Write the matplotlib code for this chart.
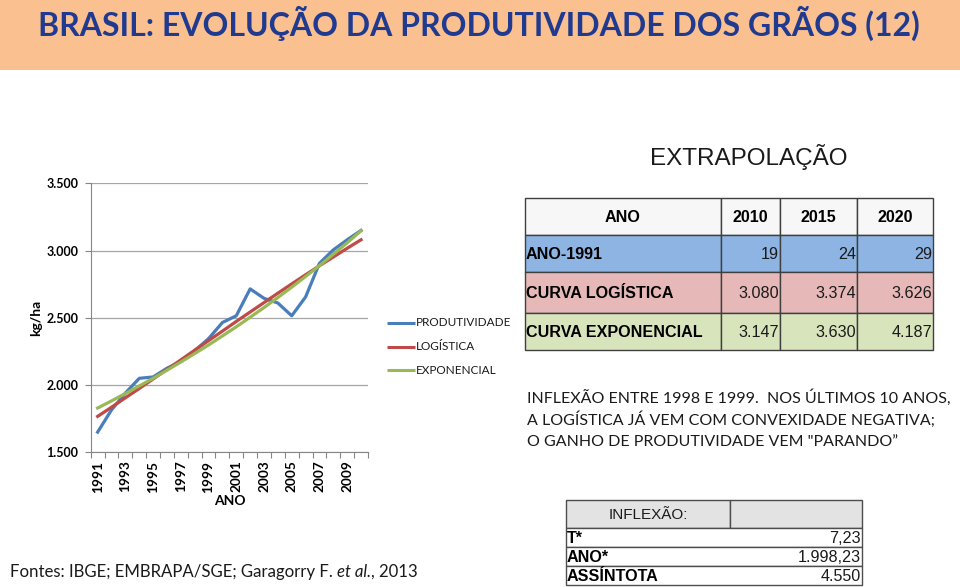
import matplotlib
matplotlib.use("Agg")
import matplotlib.pyplot as plt
from matplotlib.patches import Rectangle
from matplotlib.ticker import FuncFormatter, FixedLocator, NullFormatter

# dados do grafico
anos = list(range(1991, 2011))
produtividade = [1650, 1815, 1940, 2050, 2060, 2125, 2175, 2255, 2345, 2465,
                 2515, 2715, 2645, 2610, 2515, 2655, 2905, 3005, 3080, 3150]
logistica = [1767, 1835, 1905, 1974, 2045, 2116, 2187, 2259, 2330, 2401,
             2473, 2543, 2613, 2683, 2752, 2820, 2887, 2952, 3017, 3080]
exponencial = [1829, 1882, 1937, 1993, 2050, 2110, 2171, 2234, 2298, 2365,
               2433, 2504, 2576, 2651, 2728, 2807, 2888, 2972, 3058, 3147]
series_nomes = ["PRODUTIVIDADE", "LOGÍSTICA", "EXPONENCIAL"]

# tabela de extrapolacao
extrap_anos = ["2010", "2015", "2020"]
extrap_linhas = ["ANO-1991", "CURVA LOGÍSTICA", "CURVA EXPONENCIAL"]
ano_menos_1991 = ["19", "24", "29"]
curva_logistica = ["3.080", "3.374", "3.626"]
curva_exponencial = ["3.147", "3.630", "4.187"]

# tabela de inflexao
inflexao_rotulos = ["T*", "ANO*", "ASSÍNTOTA"]
inflexao_valores = ["7,23", "1.998,23", "4.550"]

texto_inflexao = ["INFLEXÃO ENTRE 1998 E 1999.  NOS ÚLTIMOS 10 ANOS,",
                  "A LOGÍSTICA JÁ VEM COM CONVEXIDADE NEGATIVA;",
                  "O GANHO DE PRODUTIVIDADE VEM \"PARANDO\u201d"]

azul = "#4A7EBB"
vermelho = "#BE4B48"
verde = "#98B954"
calibri = ["Lato", "DejaVu Sans"]
arial = ["Liberation Sans", "DejaVu Sans"]

fig = plt.figure(figsize=(9.6, 5.87), dpi=100)
fig.patch.set_facecolor("white")

# camada em pixels para faixa, tabelas e textos
ov = fig.add_axes([0, 0, 1, 1])
ov.set_xlim(0, 960)
ov.set_ylim(587, 0)
ov.axis("off")
r = fig.canvas.get_renderer()


def ajusta(t, largura):
    w = t.get_window_extent(r).width
    t.set_fontsize(t.get_fontsize() * largura / w)


ov.add_patch(Rectangle((0, 0), 960, 70, color="#FAC090", lw=0))
t = ov.text(479, 23, "BRASIL: EVOLUÇÃO DA PRODUTIVIDADE DOS GRÃOS (12)",
            ha="center", va="center", fontsize=28, fontweight="bold",
            color="#1F3A8F", family=calibri)
ajusta(t, 882)

t = ov.text(749, 157, "EXTRAPOLAÇÃO", ha="center", va="center",
            fontsize=17, color="#1a1a1a", family=arial)
ajusta(t, 198)

# tabela de extrapolacao
cols = [525, 721, 780, 857, 933]
rows = [198, 235, 272, 313, 350]
cores = ["#F7F7F7", "#8DB4E2", "#E6B9B8", "#D8E4BC"]
valores = [ano_menos_1991, curva_logistica, curva_exponencial]
fs_tab = 11.6
for i in range(4):
    for j in range(4):
        ov.add_patch(Rectangle((cols[j], rows[i]), cols[j + 1] - cols[j],
                               rows[i + 1] - rows[i], facecolor=cores[i],
                               edgecolor="#3f3f3f", lw=1))
ov.text((cols[0] + cols[1]) / 2, (rows[0] + rows[1]) / 2 + 1, "ANO",
        ha="center", va="center", fontsize=fs_tab, fontweight="bold", family=arial)
for j, a in enumerate(extrap_anos):
    ov.text((cols[j + 1] + cols[j + 2]) / 2, (rows[0] + rows[1]) / 2 + 1, a,
            ha="center", va="center", fontsize=fs_tab, fontweight="bold", family=arial)
for i, nome in enumerate(extrap_linhas):
    yc = (rows[i + 1] + rows[i + 2]) / 2 + 1
    ov.text(cols[0] + 1, yc, nome, ha="left", va="center", fontsize=fs_tab,
            fontweight="bold", family=arial)
    for j, v in enumerate(valores[i]):
        ov.text(cols[j + 2] - 1, yc, v, ha="right", va="center",
                fontsize=fs_tab, family=arial, color="#1a1a1a")

# texto explicativo
t0 = ov.text(527, 398, texto_inflexao[0], ha="left", va="center",
             fontsize=12, family=calibri, color="#1a1a1a")
ajusta(t0, 422)
for k, linha in enumerate(texto_inflexao[1:]):
    ov.text(527, 420 + 22 * k, linha, ha="left", va="center",
            fontsize=t0.get_fontsize(), family=calibri, color="#1a1a1a")

# tabela de inflexao
ov.add_patch(Rectangle((566, 500), 164, 28, facecolor="#E3E3E3",
                       edgecolor="#4d4d4d", lw=1))
ov.add_patch(Rectangle((730, 500), 132, 28, facecolor="#E3E3E3",
                       edgecolor="#4d4d4d", lw=1))
ov.text(648, 515, "INFLEXÃO:", ha="center", va="center", fontsize=11,
        family=arial, color="#1a1a1a")
linhas_y = [528, 547, 566, 585]
for k in range(3):
    ov.add_patch(Rectangle((566, linhas_y[k]), 296, linhas_y[k + 1] - linhas_y[k],
                           facecolor="white", edgecolor="#4d4d4d", lw=1))
    yc = (linhas_y[k] + linhas_y[k + 1]) / 2 + 1
    ov.text(567, yc, inflexao_rotulos[k], ha="left", va="center",
            fontsize=11.6, fontweight="bold", family=arial)
    ov.text(861, yc, inflexao_valores[k], ha="right", va="center",
            fontsize=11.6, family=arial, color="#1a1a1a")

# fontes
partes = [("Fontes: IBGE; EMBRAPA/SGE; Garagorry F. ", "normal"),
          ("et al.", "italic"), (", 2013", "normal")]
x = 10
for txt, estilo in partes:
    tt = ov.text(x, 572, txt, ha="left", va="center", fontsize=12.1,
                 fontstyle=estilo, family=calibri, color="#1a1a1a")
    bb = tt.get_window_extent(r)
    x += bb.width

# legenda manual
cores_series = [azul, vermelho, verde]
for k, nome in enumerate(series_nomes):
    yl = 323 + 23.5 * k
    ov.plot([387, 415], [yl, yl], color=cores_series[k], lw=2.2,
            solid_capstyle="butt")
    ov.text(416, yl, nome, ha="left", va="center", fontsize=8.5,
            family=calibri, color="#1a1a1a")

# grafico
ax = fig.add_axes([0.0945, 0.2295, 0.2888, 0.4582])
ax.patch.set_alpha(0)
x_pos = list(range(len(anos)))
ax.plot(x_pos, produtividade, color=azul, lw=2.3)
ax.plot(x_pos, logistica, color=vermelho, lw=2.3)
ax.plot(x_pos, exponencial, color=verde, lw=2.3)
ax.set_xlim(-0.5, len(anos) - 0.5)
ax.set_ylim(1500, 3500)
ax.set_yticks([1500, 2000, 2500, 3000, 3500])
ax.yaxis.set_major_formatter(FuncFormatter(lambda v, p: f"{v:,.0f}".replace(",", ".")))
ax.grid(True, axis="y", color="#A6A6A6", lw=0.9)
ax.set_axisbelow(True)
for s in ["top", "right"]:
    ax.spines[s].set_visible(False)
for s in ["left", "bottom"]:
    ax.spines[s].set_color("#868686")
ax.xaxis.set_major_locator(FixedLocator([i - 0.5 for i in range(len(anos) + 1)]))
ax.xaxis.set_major_formatter(NullFormatter())
ax.xaxis.set_minor_locator(FixedLocator(x_pos[::2]))
ax.set_xticklabels([str(a) for a in anos[::2]], minor=True, rotation=90,
                   fontsize=9.8, fontweight="bold", family=calibri)
ax.tick_params(axis="x", which="major", length=4, color="#868686", direction="out")
ax.tick_params(axis="x", which="minor", length=0, pad=6)
ax.tick_params(axis="y", length=4, color="#868686", pad=5)
for lb in ax.get_yticklabels():
    lb.set_fontweight("bold")
    lb.set_fontsize(9)
    lb.set_family(calibri)
ax.set_xlabel("ANO", fontsize=10, fontweight="bold", family=calibri, labelpad=2)
ax.set_ylabel("kg/ha", fontsize=10, fontweight="bold", family=calibri, labelpad=3)

fig.savefig("out.png", dpi=100)
